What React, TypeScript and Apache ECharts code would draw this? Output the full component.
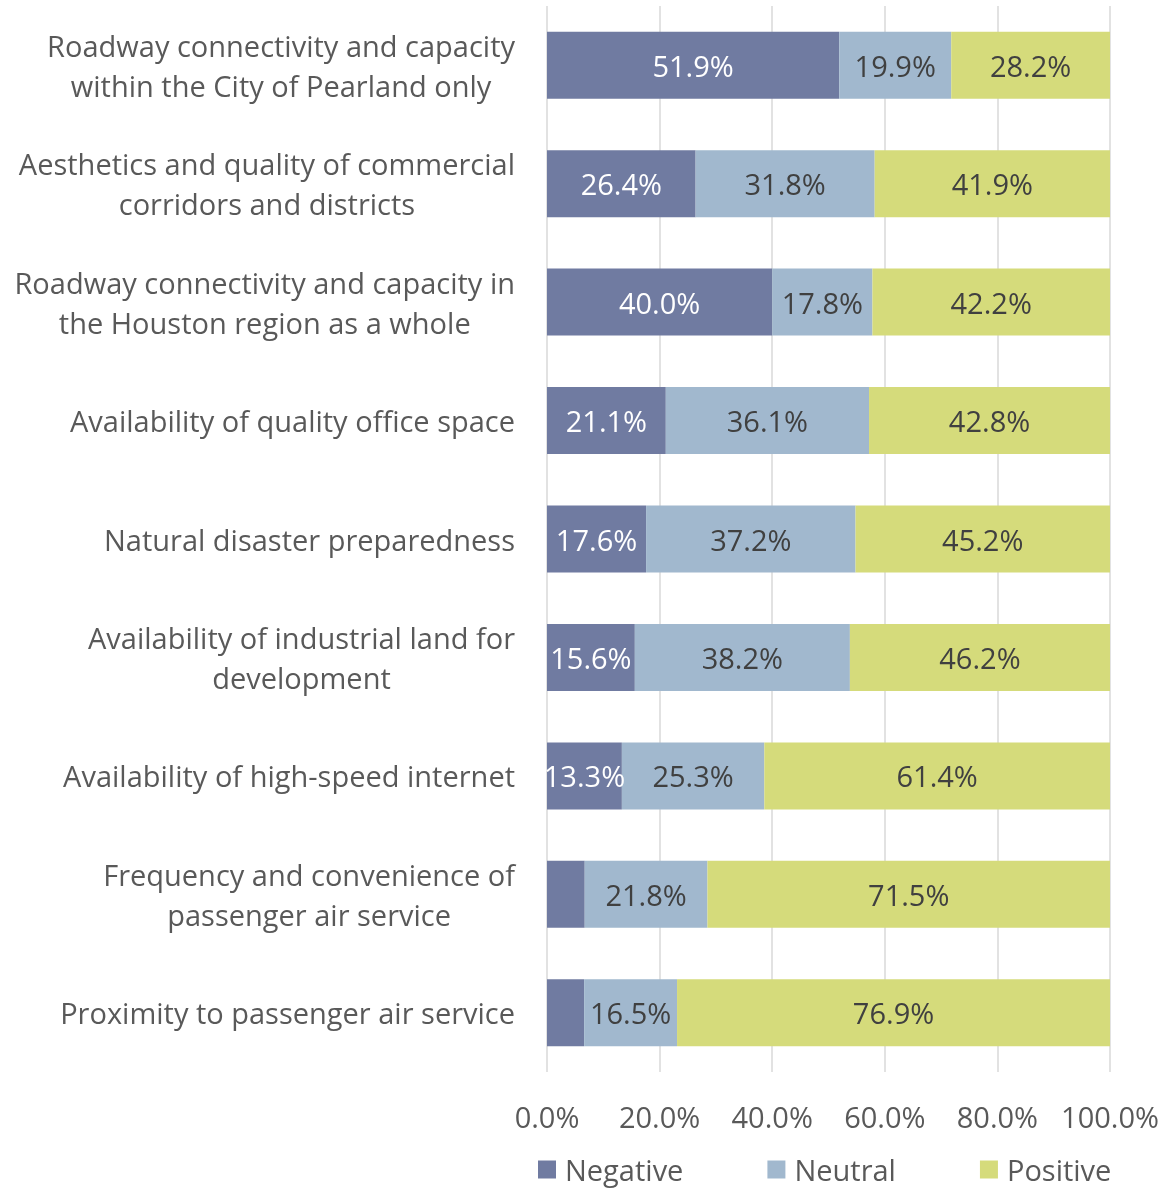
import React, { useEffect, useRef } from "react";
import * as echarts from "echarts";

const categories = [
  "Roadway connectivity and capacity\nwithin the City of Pearland only",
  "Aesthetics and quality of commercial\ncorridors and districts",
  "Roadway connectivity and capacity in\nthe Houston region as a whole",
  "Availability of quality office space",
  "Natural disaster preparedness",
  "Availability of industrial land for\ndevelopment",
  "Availability of high-speed internet",
  "Frequency and convenience of\npassenger air service",
  "Proximity to passenger air service",
];
const negative = [51.9, 26.4, 40.0, 21.1, 17.6, 15.6, 13.3, 6.7, 6.6];
const neutral = [19.9, 31.8, 17.8, 36.1, 37.2, 38.2, 25.3, 21.8, 16.5];
const positive = [28.2, 41.9, 42.2, 42.8, 45.2, 46.2, 61.4, 71.5, 76.9];
const seriesNames = ["Negative", "Neutral", "Positive"];
const colors = ["#707ba1", "#a1b8ce", "#d5db7b"];
const labelColors = ["#ffffff", "#404040", "#404040"];

const FONT = "'Open Sans', 'Noto Sans', sans-serif";
const FS = 29;

export default function App() {
  const ref = useRef<HTMLDivElement>(null);
  useEffect(() => {
    if (!ref.current) return;
    const chart = echarts.init(ref.current, undefined, { renderer: "svg" });
    const data = [negative, neutral, positive];
    chart.setOption({
      animation: false,
      textStyle: { fontFamily: FONT },
      grid: { left: 547, right: 54, top: 6, bottom: 123, containLabel: false },
      legend: {
        top: 1150,
        left: 533,
        itemWidth: 18,
        itemHeight: 18,
        itemGap: 84,
        icon: "rect",
        textStyle: { fontSize: FS, color: "#595959", fontFamily: FONT, padding: [0, 0, 0, 4] },
        data: seriesNames,
      },
      xAxis: {
        type: "value",
        min: 0,
        max: 100,
        interval: 20,
        axisLine: { show: false },
        axisTick: { show: false },
        splitLine: { show: true, lineStyle: { color: "#d9d9d9", width: 1.5 } },
        axisLabel: {
          formatter: (v: number) => v.toFixed(1) + "%",
          fontSize: FS,
          color: "#595959",
          margin: 30,
          fontFamily: FONT,
        },
      },
      yAxis: {
        type: "category",
        inverse: true,
        data: categories,
        axisLine: { show: false },
        axisTick: { show: false },
        axisLabel: {
          margin: 32,
          align: "right",
          formatter: (v: string) =>
            v
              .split("\n")
              .map((l) => "{c|" + l + "}")
              .join("\n"),
          rich: {
            c: {
              align: "center",
              fontSize: FS,
              color: "#595959",
              lineHeight: 40,
              fontFamily: FONT,
            },
          },
        },
      },
      series: seriesNames.map((name, i) => ({
        name,
        type: "bar",
        stack: "total",
        barWidth: 67,
        itemStyle: { color: colors[i] },
        label: {
          show: true,
          position: "inside",
          color: labelColors[i],
          fontSize: FS,
          fontFamily: FONT,
          formatter: (p: any) => (p.value < 10 ? "" : p.value.toFixed(1) + "%"),
        },
        data: data[i],
      })),
    });
    return () => chart.dispose();
  }, []);
  return (
    <div
      ref={ref}
      style={{ position: "fixed", left: 0, top: 0, width: 1164, height: 1195 }}
    />
  );
}
